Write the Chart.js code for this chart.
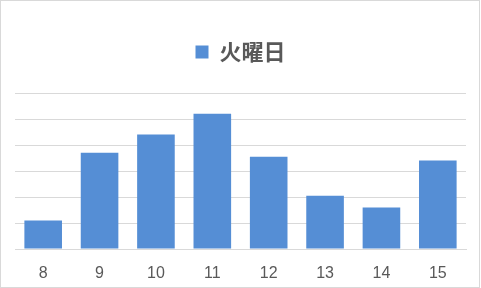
<!DOCTYPE html>
<html>
<head>
<meta charset="utf-8">
<script src="https://cdn.jsdelivr.net/npm/chart.js@4/dist/chart.umd.min.js"></script>
<style>
  html, body { margin: 0; padding: 0; background: #fff; }
  #frame {
    width: 480px; height: 288px; box-sizing: border-box;
    border: 1px solid #d9d9d9; position: relative; overflow: hidden;
  }
  canvas { display: block; }
</style>
</head>
<body>
<div id="frame"><canvas id="c" width="478" height="286"></canvas></div>
<script>
// Hours of the day and the Tuesday values for each hour
const hours = ['8', '9', '10', '11', '12', '13', '14', '15'];
const seriesName = '火曜日';
const tuesday = [11, 37, 44, 52, 35.5, 20.5, 16, 34];
const axisMax = 60;
const axisStep = 10;

const barColor = '#558ED5';
const textColor = '#595959';
const gridColor = '#d9d9d9';

// Leaves extra room between the legend and the plot area
const legendGap = {
  id: 'legendGap',
  beforeLayout(chart) {
    const lg = chart.legend;
    if (lg && !lg._gapPatched) {
      const fit = lg.fit.bind(lg);
      lg.fit = function () { fit(); this.height += 20; };
      lg._gapPatched = true;
    }
  }
};

new Chart(document.getElementById('c'), {
  type: 'bar',
  data: {
    labels: hours,
    datasets: [{
      label: seriesName,
      data: tuesday,
      backgroundColor: barColor,
      borderWidth: 0,
      barPercentage: 0.667,
      categoryPercentage: 1.0
    }]
  },
  plugins: [legendGap],
  options: {
    responsive: false,
    animation: false,
    devicePixelRatio: 1,
    layout: { padding: { left: 14, right: 13, top: 30, bottom: 4 } },
    plugins: {
      tooltip: { enabled: false },
      legend: {
        position: 'top',
        labels: {
          boxWidth: 13,
          boxHeight: 13,
          padding: 10,
          color: textColor,
          font: { family: '"Noto Sans CJK JP", sans-serif', size: 22, weight: 'bold' }
        }
      }
    },
    scales: {
      x: {
        afterFit(scale) { scale.height = 34; },
        grid: { display: false, drawTicks: false },
        border: { display: true, color: gridColor, width: 1 },
        ticks: {
          color: textColor,
          padding: 15,
          font: { family: '"Liberation Sans", Arial, sans-serif', size: 16 }
        }
      },
      y: {
        min: 0,
        max: axisMax,
        grid: { color: gridColor, lineWidth: 1, drawTicks: false },
        border: { display: false },
        ticks: { display: false, stepSize: axisStep }
      }
    }
  }
});
</script>
</body>
</html>
